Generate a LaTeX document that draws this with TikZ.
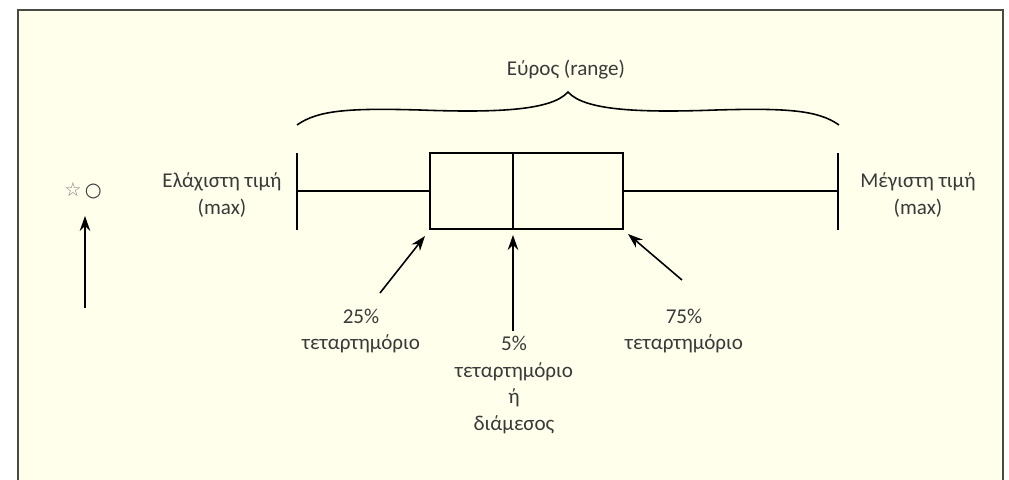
\documentclass[tikz,border=0pt]{standalone}
\usepackage{fontspec}
\setmainfont{Carlito}
\newfontfamily\symfont{DejaVu Sans}
\usetikzlibrary{arrows.meta,positioning}
\definecolor{paper}{HTML}{FFFFEC}
\definecolor{ink}{HTML}{3A3A3A}
\definecolor{rim}{HTML}{4A4A44}
\tikzset{
  lbl/.style={text=ink, font=\fontsize{12}{15.3}\selectfont, align=center, inner sep=0pt},
  pointer/.style={-{Stealth[length=8.5pt,width=6pt]}, line width=0.9pt},
  plot/.style={line width=1.1pt}
}
\begin{document}
\begin{tikzpicture}[x=0.02cm, y=-0.02cm]
    % Page and frame
    \useasboundingbox (0,0) rectangle (1009,480);
    \fill[white] (0,0) rectangle (1009,480);
    \draw[line width=1.2pt, draw=rim, fill=paper] (18,10) rectangle (1003,520);

    % Box, median and whiskers
    \coordinate (boxnw) at (430,153);
    \coordinate (boxse) at (623,229);
    \coordinate (boxsw) at (430,229);
    \coordinate (medtop) at (513,153);
    \coordinate (medbot) at (513,229);
    \coordinate (lo) at (297,191);
    \coordinate (hi) at (838,191);
    \draw[plot] (boxnw) rectangle (boxse);
    \draw[plot] (medtop) -- (medbot);
    \draw[plot] (lo) -- (boxnw |- lo);
    \draw[plot] (boxse |- hi) -- (hi);
    \draw[plot] ([yshift=0.76cm]lo) -- ([yshift=-0.78cm]lo);
    \draw[plot] ([yshift=0.76cm]hi) -- ([yshift=-0.78cm]hi);

    % Brace over the range
    \draw[line width=0.9pt] (297,125) .. controls (318,110) and (350,108) .. (420,110)
        .. controls (500,113) and (552,110) .. (568,92)
        .. controls (584,110) and (636,113) .. (716,110)
        .. controls (786,108) and (818,110) .. (839,125);

    % Labels
    \node[lbl] (range) at (566,70) {Εύρος (range)};
    \node[lbl] (minlbl) at (222,195) {Ελάχιστη τιμή\\(max)};
    \node[lbl] (maxlbl) at (918,195) {Μέγιστη τιμή\\(max)};
    \node[lbl] (q1) at (361,331) {25\%\\τεταρτημόριο};
    \node[lbl] (q2) at (514,385) {5\%\\τεταρτημόριο\\ή\\διάμεσος};
    \node[lbl] (q3) at (684,331) {75\%\\τεταρτημόριο};
    \node[text=ink, font=\symfont\fontsize{11}{12}\selectfont, inner sep=0pt] (outl) at (83,191)
        {\textcolor{gray}{☆}\,○};

    % Arrows to the box
    \coordinate (q1tail) at (380,293);
    \coordinate (q1head) at (425,236);
    \coordinate (q2tail) at (513,331);
    \coordinate (q2head) at (513,235);
    \coordinate (q3tail) at (682,280);
    \coordinate (q3head) at (628,234);
    \coordinate (outtail) at (85,308);
    \coordinate (outhead) at (85,216);
    \draw[pointer] (q1tail) -- (q1head);
    \draw[pointer] (q2tail) -- (q2head);
    \draw[pointer] (q3tail) -- (q3head);
    \draw[pointer] (outtail) -- (outhead);
\end{tikzpicture}
\end{document}
